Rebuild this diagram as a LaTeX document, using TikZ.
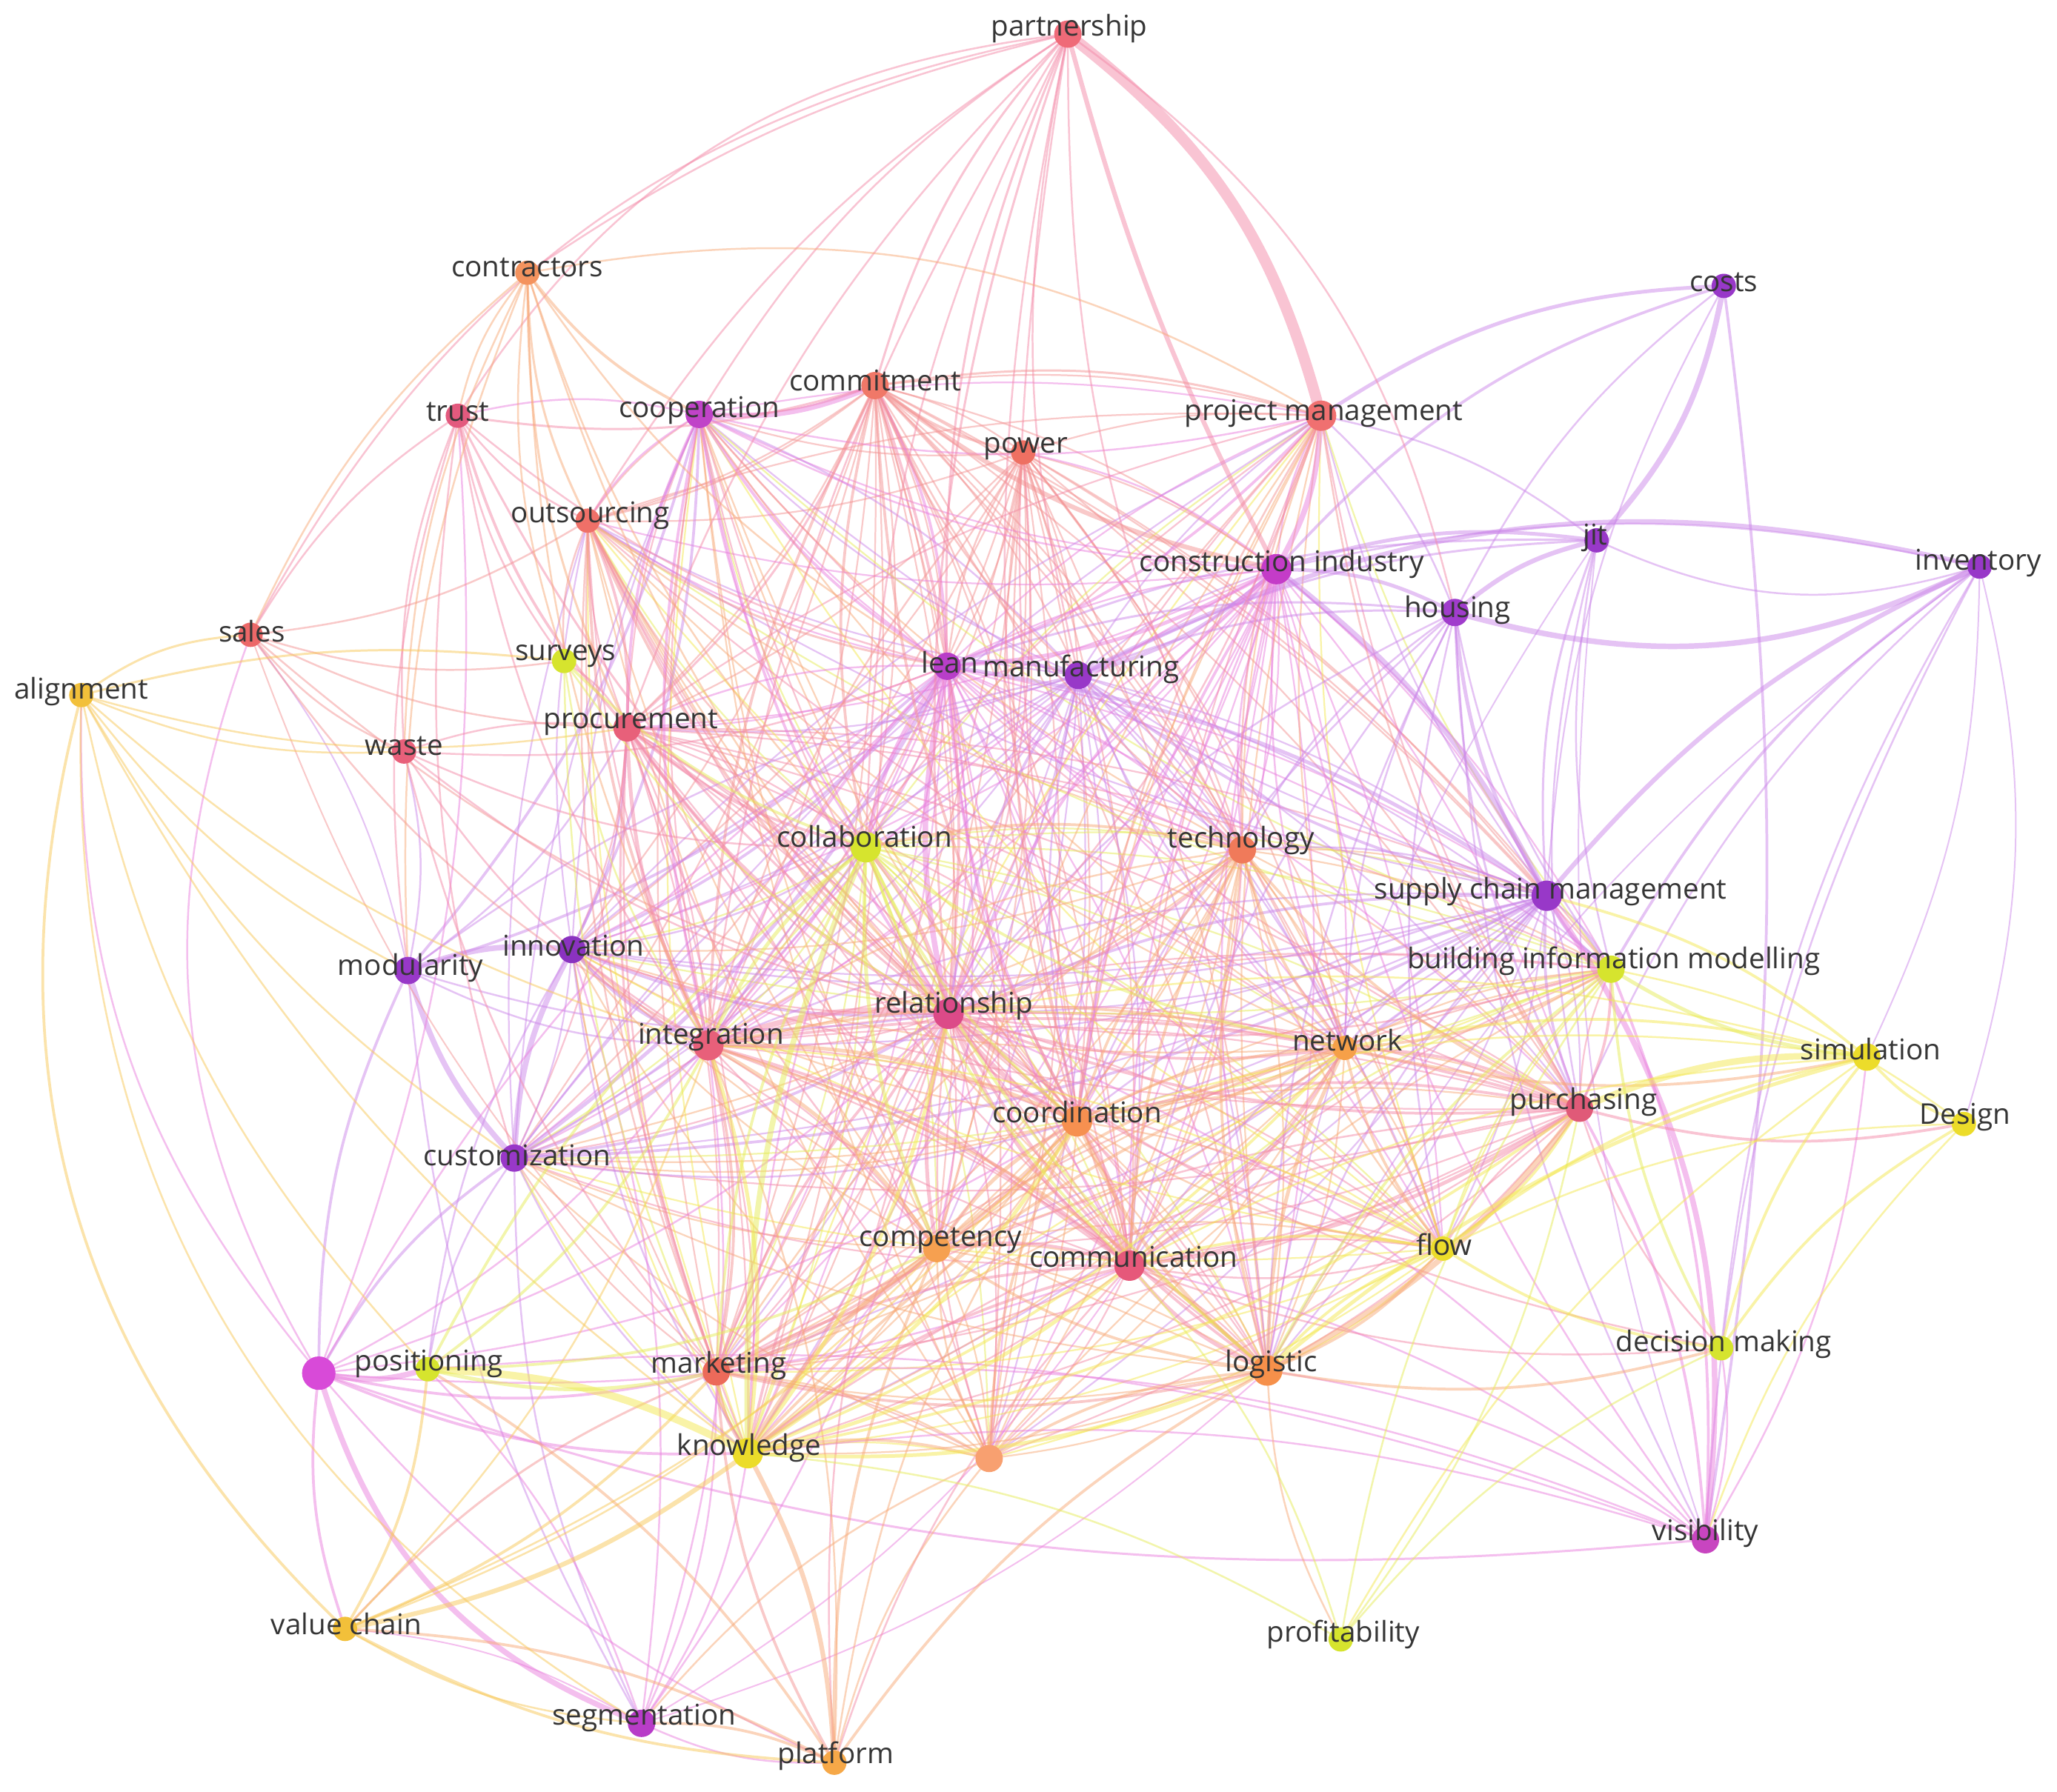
\documentclass[tikz,border=0pt]{standalone}
\usepackage{fontspec}
\setmainfont{Open Sans}
\usetikzlibrary{backgrounds}
\pgfdeclarelayer{bg}
\pgfdeclarelayer{edges}
\pgfsetlayers{bg,edges,main}
% node colours
\definecolor{cPart}{HTML}{EF6A78}
\definecolor{cContr}{HTML}{F4935E}
\definecolor{cPurp}{HTML}{9838C8}
\definecolor{cInn}{HTML}{8A32C0}
\definecolor{cTrust}{HTML}{E35A7E}
\definecolor{cCoop}{HTML}{C043C8}
\definecolor{cComm}{HTML}{F07868}
\definecolor{cPower}{HTML}{EE7062}
\definecolor{cPM}{HTML}{F07070}
\definecolor{cOuts}{HTML}{EF7068}
\definecolor{cCI}{HTML}{C43CC8}
\definecolor{cHous}{HTML}{A03CCC}
\definecolor{cSales}{HTML}{EC6868}
\definecolor{cYG}{HTML}{D6E42E}
\definecolor{cAlign}{HTML}{F2C03A}
\definecolor{cLean}{HTML}{B83EC8}
\definecolor{cProc}{HTML}{E8607A}
\definecolor{cRel}{HTML}{DC4A88}
\definecolor{cTech}{HTML}{F07A5A}
\definecolor{cNet}{HTML}{F6A048}
\definecolor{cYel}{HTML}{ECDC2A}
\definecolor{cCoord}{HTML}{F69050}
\definecolor{cPurch}{HTML}{E05A78}
\definecolor{cComp}{HTML}{F6A050}
\definecolor{cCommun}{HTML}{E6587A}
\definecolor{cMag}{HTML}{D84AD8}
\definecolor{cMark}{HTML}{EC6A5A}
\definecolor{cLog}{HTML}{F6904A}
\definecolor{cUtwo}{HTML}{F8A070}
\definecolor{cVis}{HTML}{C845C0}
\definecolor{cSeg}{HTML}{B83CC8}
\definecolor{cPlat}{HTML}{F6A848}
% edge colours
\definecolor{ePur}{HTML}{CC88EA}
\definecolor{eMag}{HTML}{EA80DE}
\definecolor{ePnk}{HTML}{F48AA8}
\definecolor{eRed}{HTML}{F49494}
\definecolor{eOra}{HTML}{F8AA78}
\definecolor{eYOr}{HTML}{F8C858}
\definecolor{eYel}{HTML}{F4E850}
\definecolor{eYGr}{HTML}{E6EC58}
\definecolor{labelgray}{HTML}{353535}
\tikzset{
  dot/.style 2 args={circle, fill=#1, draw=none, minimum size=#2*0.058cm, inner sep=0pt},
  lbl/.style={font=\fontsize{15.5}{18}\selectfont, text=labelgray, inner sep=0pt},
  lk/.style={line width=#1, opacity=0.5, line cap=round},
  lpur/.style={lk=#1, draw=ePur}, lpur/.default=0.9pt,
  lmag/.style={lk=#1, draw=eMag}, lmag/.default=0.9pt,
  lpnk/.style={lk=#1, draw=ePnk}, lpnk/.default=0.9pt,
  lred/.style={lk=#1, draw=eRed}, lred/.default=0.9pt,
  lora/.style={lk=#1, draw=eOra}, lora/.default=0.9pt,
  lyor/.style={lk=#1, draw=eYOr}, lyor/.default=0.9pt,
  lyel/.style={lk=#1, draw=eYel}, lyel/.default=0.9pt,
  lygr/.style={lk=#1, draw=eYGr}, lygr/.default=0.9pt,
}
\begin{document}
\begin{tikzpicture}[x=0.025cm,y=-0.025cm]
\begin{pgfonlayer}{bg}
\fill[white] (0,0) rectangle (1568,1366);
\end{pgfonlayer}
\useasboundingbox (0,0) rectangle (1568,1366);

% ---------------- nodes ----------------
\node[dot={cPart}{9}] (pa) at (814,26) {};
\node[dot={cContr}{8}] (co) at (402,208) {};
\node[dot={cPurp}{8}] (cs) at (1314,218) {};
\node[dot={cTrust}{8}] (tr) at (349,317) {};
\node[dot={cCoop}{9}] (cp) at (533,316) {};
\node[dot={cComm}{9}] (cm) at (667,294) {};
\node[dot={cPower}{8}] (pw) at (780,345) {};
\node[dot={cPM}{10}] (pm) at (1007,317) {};
\node[dot={cOuts}{8}] (os) at (448,397) {};
\node[dot={cPurp}{8}] (jt) at (1217,412) {};
\node[dot={cPurp}{8}] (iv) at (1509,432) {};
\node[dot={cCI}{10}] (ci) at (973,434) {};
\node[dot={cHous}{9}] (ho) at (1109,467) {};
\node[dot={cSales}{8}] (sa) at (191,484) {};
\node[dot={cYG}{8}] (su) at (430,504) {};
\node[dot={cAlign}{8}] (al) at (62,530) {};
\node[dot={cLean}{9}] (le) at (722,508) {};
\node[dot={cPurp}{9}] (mf) at (822,515) {};
\node[dot={cProc}{9}] (pr) at (478,555) {};
\node[dot={cProc}{8}] (wa) at (308,573) {};
\node[dot={cYG}{10}] (cb) at (660,646) {};
\node[dot={cTech}{9}] (te) at (947,648) {};
\node[dot={cPurp}{10}] (sc) at (1179,683) {};
\node[dot={cPurp}{9}] (mo) at (311,740) {};
\node[dot={cInn}{9}] (in) at (436,724) {};
\node[dot={cYG}{9}] (bi) at (1228,739) {};
\node[dot={cRel}{10}] (re) at (723,773) {};
\node[dot={cProc}{10}] (ig) at (540,797) {};
\node[dot={cNet}{8}] (nw) at (1025,799) {};
\node[dot={cYel}{9}] (si) at (1423,806) {};
\node[dot={cCoord}{10}] (cd) at (821,855) {};
\node[dot={cPurch}{9}] (pu) at (1204,845) {};
\node[dot={cYel}{8}] (de) at (1497,857) {};
\node[dot={cPurp}{9}] (cu) at (392,883) {};
\node[dot={cComp}{9}] (ct) at (714,952) {};
\node[dot={cCommun}{10}] (cn) at (861,965) {};
\node[dot={cYel}{8}] (fl) at (1100,952) {};
\node[dot={cYG}{8}] (dm) at (1312,1028) {};
\node[dot={cMag}{11}] (u1) at (243,1047) {};
\node[dot={cYG}{8}] (po) at (326,1044) {};
\node[dot={cMark}{9}] (mk) at (546,1046) {};
\node[dot={cLog}{10}] (lo) at (966,1045) {};
\node[dot={cYel}{10}] (kn) at (570,1108) {};
\node[dot={cUtwo}{9}] (u2) at (754,1112) {};
\node[dot={cVis}{9}] (vi) at (1300,1174) {};
\node[dot={cAlign}{8}] (vc) at (263,1242) {};
\node[dot={cYG}{8}] (pf) at (1022,1250) {};
\node[dot={cSeg}{9}] (sg) at (489,1314) {};
\node[dot={cPlat}{8}] (pl) at (636,1344) {};

% ---------------- labels ----------------
\node[lbl] (pa-t) at (815,22) {partnership};
\node[lbl] (co-t) at (402,204) {contractors};
\node[lbl] (cs-t) at (1314,215) {costs};
\node[lbl] (tr-t) at (349,314) {trust};
\node[lbl] (cp-t) at (533,313) {cooperation};
\node[lbl] (cm-t) at (667,290) {commitment};
\node[lbl] (pw-t) at (782,342) {power};
\node[lbl] (pm-t) at (1009,315) {project management};
\node[lbl] (os-t) at (450,393) {outsourcing};
\node[lbl] (jt-t) at (1216,410) {jit};
\node[lbl] (iv-t) at (1508,429) {inventory};
\node[lbl] (ci-t) at (977,430) {construction industry};
\node[lbl] (ho-t) at (1111,465) {housing};
\node[lbl] (sa-t) at (192,481) {sales};
\node[lbl] (su-t) at (431,500) {surveys};
\node[lbl] (al-t) at (62,527) {alignment};
\node[lbl] (le-t) at (724,505) {lean};
\node[lbl] (mf-t) at (824,510) {manufacturing};
\node[lbl] (pr-t) at (481,551) {procurement};
\node[lbl] (wa-t) at (308,569) {waste};
\node[lbl] (cb-t) at (659,638) {collaboration};
\node[lbl] (te-t) at (946,641) {technology};
\node[lbl] (sc-t) at (1182,680) {supply chain management};
\node[lbl] (mo-t) at (313,738) {modularity};
\node[lbl] (in-t) at (437,721) {innovation};
\node[lbl] (bi-t) at (1230,733) {building information modelling};
\node[lbl] (re-t) at (727,767) {relationship};
\node[lbl] (ig-t) at (542,791) {integration};
\node[lbl] (nw-t) at (1027,793) {network};
\node[lbl] (si-t) at (1426,800) {simulation};
\node[lbl] (cd-t) at (821,848) {coordination};
\node[lbl] (pu-t) at (1207,840) {purchasing};
\node[lbl] (de-t) at (1498,852) {Design};
\node[lbl] (cu-t) at (394,881) {customization};
\node[lbl] (ct-t) at (717,946) {competency};
\node[lbl] (cn-t) at (864,958) {communication};
\node[lbl] (fl-t) at (1101,949) {flow};
\node[lbl] (dm-t) at (1314,1025) {decision making};
\node[lbl] (po-t) at (327,1040) {positioning};
\node[lbl] (mk-t) at (548,1041) {marketing};
\node[lbl] (lo-t) at (969,1040) {logistic};
\node[lbl] (kn-t) at (571,1104) {knowledge};
\node[lbl] (vi-t) at (1300,1169) {visibility};
\node[lbl] (vc-t) at (264,1238) {value chain};
\node[lbl] (pf-t) at (1024,1246) {profitability};
\node[lbl] (sg-t) at (491,1310) {segmentation};
\node[lbl] (pl-t) at (637,1339) {platform};

% ---------------- edges ----------------
\begin{pgfonlayer}{edges}
% dense thin mesh among the central terms
\foreach \a/\c [count=\i] in {cm/eRed, pw/eRed, le/eMag, mf/ePur, ci/eMag, pr/ePnk, cb/eYGr, te/eOra, sc/ePur, re/ePnk, ig/ePnk, nw/eOra, cd/eOra, pu/ePnk, ct/eOra, cn/ePnk, fl/eYel, lo/eOra, kn/eYel, mk/eRed, u2/eOra, bi/eYGr, in/ePur, cu/ePur, os/eRed, cp/eMag, pm/eRed}
  {\foreach \b [count=\j] in {cm, pw, le, mf, ci, pr, cb, te, sc, re, ig, nw, cd, pu, ct, cn, fl, lo, kn, mk, u2, bi, in, cu, os, cp, pm}
    {\ifnum\j>\i\relax \draw[lk=0.9pt, draw=\c] (\a) to[bend left=10] (\b);\fi}}
% purple
\foreach \a/\b/\w in {cs/ho/1, cs/sc/0.9, jt/ho/2.5, jt/ci/2, jt/le/1.2, jt/mf/1.2, jt/pm/1, jt/sc/1.2, jt/pu/1, jt/bi/1, jt/lo/0.8, jt/vi/0.8,
  iv/sc/2.5, iv/bi/1.5, iv/pu/1, iv/vi/1, iv/dm/1, iv/ci/1, iv/lo/0.8,
  ho/ci/2, ho/le/1.2, ho/mf/1.2, ho/sc/2, ho/pu/1.2, ho/bi/1, ho/cn/1, ho/nw/1, ho/re/1, ho/cd/1, ho/lo/1, ho/te/1, ho/pm/1, ho/fl/1, ho/vi/1,
  mf/le/2, mf/ci/2, mf/re/1.5, mf/sc/1.5, mf/cd/1, mf/ig/1, mf/cp/1, mf/cu/1, mf/mo/1, mf/in/1, mf/te/1, mf/nw/1,
  in/mo/3, in/cu/3, in/ig/1.5, in/re/1.5, in/cb/1, in/le/1.5, in/cp/1.5, in/pr/1, in/sc/1, in/kn/1, in/po/1,
  mo/cu/3, mo/cp/1.5, mo/le/1.5, mo/ig/1, mo/re/1, mo/sg/1, mo/u1/1.5, mo/wa/1, mo/pr/1, mo/sa/0.8,
  cu/le/2, cu/ig/1.5, cu/re/1.5, cu/sc/1.5, cu/cb/1, cu/u1/1.5, cu/po/1, cu/kn/1, cu/sg/1, cu/cd/1,
  sc/ci/3, sc/le/2, sc/re/1.5, sc/ig/1, sc/cd/1, sc/cn/1, sc/nw/1, sc/lo/1, sc/te/1, sc/bi/2, sc/pu/1.5}
  \draw[lpur=\w pt] (\a) to[bend right=12] (\b);
\draw[lpur=3pt] (cs) to[bend left=15] (jt);
\draw[lpur=1.5pt] (cs) to[bend left=8] (vi);
\draw[lpur=2pt] (cs) to[bend right=15] (pm);
\draw[lpur=1.5pt] (cs) to[bend right=15] (ci);
\draw[lpur=1pt] (jt) to[bend right=20] (iv);
\draw[lpur=2.5pt] (mf) to[bend left=20] (iv);
\draw[lpur=3pt] (ho) to[bend right=20] (iv);
\draw[lpur=0.8pt] (iv) to[bend left=15] (de);
\draw[lpur=0.8pt] (iv) to[bend left=12] (si);
% magenta
\foreach \a/\b/\w in {sg/po/1, sg/kn/1, sg/mk/1, sg/in/1, sg/ig/1, sg/re/1, sg/pl/1, sg/vc/0.8, sg/lo/0.8, sg/cn/0.8,
  cp/cm/3, cp/le/1.5, cp/re/1.5, cp/ig/1.5, cp/tr/1, cp/os/1, cp/pr/1.5, cp/ci/1, cp/pm/1, cp/cb/1,
  le/re/3, le/cb/2, le/ig/1.5, le/cd/1.5, le/ci/2, le/cn/1, le/pr/1, le/te/1, le/pm/1.5, le/cm/1.5, le/u1/1, le/kn/1,
  ci/pm/3, ci/re/1.5, ci/cd/1.5, ci/te/1, ci/pw/1, ci/cn/1, ci/lo/1, ci/nw/1, ci/ig/1, ci/vi/1,
  u1/po/3, u1/mk/1.5, u1/kn/1.5, u1/vc/1.5, u1/ig/1, u1/re/1, u1/cn/1, u1/cd/1, u1/pl/1, u1/tr/1, u1/vi/1.2,
  vi/pu/1.5, vi/bi/1.5, vi/dm/1, vi/si/1, vi/lo/1, vi/cn/1, vi/re/1, vi/kn/1, vi/mk/1, vi/po/1}
  \draw[lmag=\w pt] (\a) to[bend right=12] (\b);
\draw[lmag=3pt] (u1) to[bend right=25] (sg);
\draw[lmag=3pt] (sc) to[bend left=20] (vi);
\draw[lmag=1pt] (al) to[bend right=20] (u1);
\draw[lmag=1pt] (sa) to[bend right=25] (u1);
% pink
\foreach \a/\b/\w in {pa/cp/1, pa/cm/1.2, pa/os/1, pa/le/1.2, pa/re/1.2, pa/ig/1, pa/pr/1, pa/cb/1, pa/te/1, pa/cd/1, pa/mf/1, pa/cn/1,
  tr/cm/1.2, tr/os/1, tr/pr/1.5, tr/wa/1, tr/re/1.2, tr/ig/1, tr/le/1, tr/su/1, tr/mo/1, tr/sa/1, tr/cu/1,
  re/cb/2, re/ig/3, re/cd/2.5, re/cn/2, re/ct/2, re/te/1.5, re/nw/1.5, re/lo/1.5, re/pu/1.5, re/mk/1.5, re/kn/1.5, re/bi/1, re/pw/1, re/cm/1.5, re/pm/1, re/u2/1, re/pl/1, re/dm/1, re/fl/1,
  pr/ig/2, pr/re/2, pr/cb/1.5, pr/cm/1.2, pr/mk/1.2, pr/kn/1, pr/ct/1, pr/cn/1, pr/cd/1, pr/wa/1, pr/os/1.5, pr/su/1,
  wa/ig/1, wa/re/1, wa/le/1, wa/cb/1, wa/mk/1,
  cn/cd/2, cn/ct/1.5, cn/lo/2, cn/nw/1.5, cn/kn/1.5, cn/mk/1.5, cn/pu/2, cn/fl/1, cn/dm/1, cn/te/1, cn/pl/1, cn/ig/1.5,
  pu/nw/1.5, pu/cd/1.5, pu/bi/1.5, pu/dm/1, pu/de/1.5, pu/fl/1, pu/ig/1.5, pu/kn/1, pu/mk/1}
  \draw[lpnk=\w pt] (\a) to[bend right=12] (\b);
\draw[lpnk=6pt] (pa) to[bend left=18] (pm);
\draw[lpnk=2.5pt] (pa) to[bend right=6] (ci);
\draw[lpnk=1pt] (pa) to[bend right=25] (tr);
\draw[lpnk=1pt] (pa) to[bend left=20] (ho);
\draw[lpnk=1pt] (pa) to[bend right=25] (sa);
\draw[lpnk=1pt] (pa) to[bend right=10] (co);
% red
\foreach \a/\b/\w in {sa/wa/1, sa/pr/1, sa/os/1, sa/su/1, sa/re/1, sa/ig/1, sa/mk/0.8,
  os/ig/1.5, os/re/1.5, os/le/1.2, os/cm/1, os/cb/1, os/su/1, os/mk/1, os/cd/1,
  mk/kn/2, mk/ct/1.5, mk/cd/1.5, mk/lo/1.5, mk/pl/1.5, mk/vc/1.2, mk/ig/1.5,
  pm/cm/1.2, pm/cd/1, pm/pu/1, pm/te/1,
  cm/ci/2.5, cm/ig/1.5, cm/cd/1.5, cm/te/1, cm/pw/1.5, cm/cb/1.5, cm/mf/1,
  pw/le/1, pw/cd/1, pw/te/1, pw/ig/1, pw/cn/1}
  \draw[lred=\w pt] (\a) to[bend right=12] (\b);
% orange
\foreach \a/\b/\w in {co/tr/1, co/cp/1.5, co/os/1.2, co/su/1, co/pr/1.2, co/wa/1, co/le/1, co/re/1, co/ig/1, co/cb/1, co/sa/1, co/mo/1,
  te/cd/1.5, te/cn/1.5, te/nw/1.5, te/lo/1.5, te/ig/1, te/cb/1.5, te/pu/1.5, te/fl/1, te/mk/1,
  nw/cd/1.5, nw/lo/2, nw/ig/1.5, nw/fl/1.5, nw/bi/1.5, nw/ct/1.5, nw/kn/1.5, nw/si/1.5,
  cd/lo/2, cd/ct/2, cd/ig/2, cd/pl/1, cd/u2/1.5, cd/fl/1,
  ct/kn/2.5, ct/lo/1.5, ct/ig/2, ct/pl/1.5, ct/u2/1,
  lo/pu/3, lo/pf/1, lo/dm/1.5, lo/fl/1.5, lo/pl/1.5, lo/u2/1.5, lo/ig/1.5,
  u2/kn/1.5, u2/mk/1, u2/pl/1, u2/sg/1,
  pl/kn/2.5, pl/po/1.5, pl/vc/1.5, pl/sg/1.5, pl/ig/1}
  \draw[lora=\w pt] (\a) to[bend right=12] (\b);
\draw[lora=1pt] (co) to[bend left=20] (pm);
% yellow-orange
\foreach \a/\b/\w in {al/wa/1, al/pr/1, al/mo/1, al/cu/1, al/kn/1, al/ig/1,
  vc/kn/2.5, vc/po/1.5, vc/mk/1.5, vc/pl/1.5, vc/sg/1, vc/ig/1, vc/ct/1, vc/cd/1}
  \draw[lyor=\w pt] (\a) to[bend right=12] (\b);
\draw[lyor=1.2pt] (al) to[bend left=15] (sa);
\draw[lyor=1.2pt] (al) to[bend left=10] (su);
\draw[lyor=1.5pt] (al) to[bend right=30] (vc);
\draw[lyor=1pt] (al) to[bend right=30] (sg);
\draw[lyor=1pt] (al) to[bend right=15] (po);
% yellow
\foreach \a/\b/\w in {kn/po/4, kn/ig/2, kn/cd/2, kn/cn/2, kn/lo/2, kn/nw/1.5, kn/re/2, kn/pu/1.5,
  si/pu/3.5, si/de/1.5, si/dm/1.5, si/cn/1, si/fl/1.5, si/sc/1.5, si/pf/1, si/cd/1, si/lo/2, si/nw/1.5, si/re/1,
  de/dm/1.5, de/bi/1, de/vi/1, de/fl/1, fl/dm/1.5, fl/cn/1.5, fl/lo/1.5, fl/pu/1.5, fl/ig/1}
  \draw[lyel=\w pt] (\a) to[bend right=12] (\b);
% yellow-green
\foreach \a/\b/\w in {su/cb/1.5, su/ig/1, su/kn/1, su/re/1,
  cb/ig/2, cb/kn/3, cb/cd/1.5, cb/ct/2, cb/cn/1.5, cb/lo/1.5, cb/po/1.5, cb/nw/1.5, cb/mk/1.5,
  bi/si/2, bi/dm/1.5, bi/lo/1.5, bi/fl/1, bi/pf/1, bi/cn/1,
  dm/pf/1, po/ig/1.5, po/mk/2, po/ct/1.5, pf/cn/1, pf/kn/1, pf/pu/1}
  \draw[lygr=\w pt] (\a) to[bend right=12] (\b);
\end{pgfonlayer}
\end{tikzpicture}
\end{document}
